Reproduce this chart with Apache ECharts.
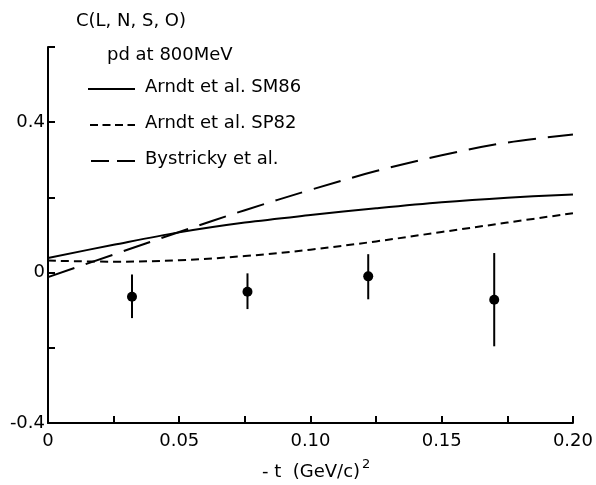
<!DOCTYPE html>
<html>
<head>
<meta charset="utf-8">
<script src="https://cdn.jsdelivr.net/npm/echarts@6/dist/echarts.min.js"></script>
<style>
  html, body { margin: 0; padding: 0; background: #fff; }
  #chart { width: 596px; height: 485px; }
</style>
</head>
<body>
<div id="chart"></div>
<script>
// -t values (GeV/c)^2 at which the model curves are tabulated
const tGrid = [0, 0.025, 0.05, 0.075, 0.10, 0.125, 0.15, 0.175, 0.20];
// Arndt et al. SM86
const sm86 = [0.039, 0.074, 0.107, 0.133, 0.153, 0.171, 0.187, 0.199, 0.208];
// Arndt et al. SP82
const sp82 = [0.032, 0.029, 0.033, 0.044, 0.061, 0.083, 0.108, 0.133, 0.158];
// Bystricky et al.
const bystricky = [-0.012, 0.048, 0.108, 0.166, 0.220, 0.270, 0.312, 0.346, 0.367];

// measured C(L,N,S,O) with error bars
const tData = [0.032, 0.076, 0.122, 0.170];
const cData = [-0.064, -0.051, -0.010, -0.072];
const cLow = [-0.121, -0.097, -0.071, -0.196];
const cHigh = [-0.005, -0.002, 0.049, 0.052];

// axis labels
const xLabels = { '0': '0', '0.05': '0.05', '0.1': '0.10', '0.15': '0.15', '0.2': '0.20' };
const yLabels = { '0.4': '0.4', '0': '0', '-0.4': '-0.4' };

const FONT = 'DejaVu Sans';
const chart = echarts.init(document.getElementById('chart'), null, { renderer: 'canvas' });

const pairs = (xs, ys) => xs.map((x, i) => [x, ys[i]]);

const curveSeries = (name, ys, type) => ({
  name,
  type: 'line',
  data: pairs(tGrid, ys),
  smooth: 0.35,
  symbol: 'none',
  silent: true,
  lineStyle: { color: '#000', width: 2, type }
});

chart.setOption({
  animation: false,
  backgroundColor: '#fff',
  grid: { left: 48, right: 22, top: 47, bottom: 62, containLabel: false },
  xAxis: {
    type: 'value', min: 0, max: 0.2, interval: 0.025,
    axisLine: { onZero: false, lineStyle: { color: '#000', width: 2 } },
    axisTick: { inside: true, length: 7, lineStyle: { color: '#000', width: 2 } },
    splitLine: { show: false },
    axisLabel: {
      color: '#000', fontFamily: FONT, fontSize: 18, margin: 9, showMaxLabel: true, showMinLabel: true,
      formatter: v => { const k = String(Math.round(v * 1000) / 1000); return xLabels[k] || ''; }
    }
  },
  yAxis: {
    type: 'value', min: -0.4, max: 0.6, interval: 0.2,
    axisLine: { onZero: false, lineStyle: { color: '#000', width: 2 } },
    axisTick: { inside: true, length: 7, lineStyle: { color: '#000', width: 2 } },
    splitLine: { show: false },
    axisLabel: {
      color: '#000', fontFamily: FONT, fontSize: 18, margin: 3,
      formatter: v => { const k = String(Math.round(v * 10) / 10); return yLabels[k] || ''; }
    }
  },
  series: [
    curveSeries('Arndt et al. SM86', sm86, 'solid'),
    curveSeries('Arndt et al. SP82', sp82, [8, 5]),
    curveSeries('Bystricky et al.', bystricky, [28, 12]),
    {
      type: 'custom',
      silent: true,
      data: tData.map((t, i) => [t, cLow[i], cHigh[i]]),
      renderItem: (params, api) => {
        const p1 = api.coord([api.value(0), api.value(1)]);
        const p2 = api.coord([api.value(0), api.value(2)]);
        return {
          type: 'line',
          shape: { x1: p1[0], y1: p1[1], x2: p2[0], y2: p2[1] },
          style: { stroke: '#000', lineWidth: 2 }
        };
      },
      z: 3
    },
    {
      type: 'scatter',
      silent: true,
      data: pairs(tData, cData),
      symbol: 'circle',
      symbolSize: 10,
      itemStyle: { color: '#000', opacity: 1 },
      z: 4
    }
  ],
  graphic: [
    { type: 'text', left: 76, top: 12, style: { text: 'C(L, N, S, O)', font: '18px "DejaVu Sans"', fill: '#000' } },
    { type: 'text', left: 107, top: 46, style: { text: 'pd at 800MeV', font: '18px "DejaVu Sans"', fill: '#000' } },
    { type: 'line', shape: { x1: 88, y1: 89, x2: 135, y2: 89 }, style: { stroke: '#000', lineWidth: 2 } },
    { type: 'text', left: 145, top: 78, style: { text: 'Arndt et al. SM86', font: '18px "DejaVu Sans"', fill: '#000' } },
    { type: 'line', shape: { x1: 90, y1: 125, x2: 135, y2: 125 }, style: { stroke: '#000', lineWidth: 2, lineDash: [8, 4.5] } },
    { type: 'text', left: 145, top: 114, style: { text: 'Arndt et al. SP82', font: '18px "DejaVu Sans"', fill: '#000' } },
    { type: 'line', shape: { x1: 91, y1: 161, x2: 135, y2: 161 }, style: { stroke: '#000', lineWidth: 2, lineDash: [18, 8] } },
    { type: 'text', left: 145, top: 150, style: { text: 'Bystricky et al.', font: '18px "DejaVu Sans"', fill: '#000' } },
    {
      type: 'text', left: 262, top: 458,
      style: {
        text: '{b|- t  (GeV/c)}{s|2}',
        rich: {
          b: { fontFamily: FONT, fontSize: 18, fill: '#000', verticalAlign: 'bottom' },
          s: { fontFamily: FONT, fontSize: 13, fill: '#000', padding: [0, 0, 10, 2], verticalAlign: 'top' }
        }
      }
    }
  ]
});
</script>
</body>
</html>
